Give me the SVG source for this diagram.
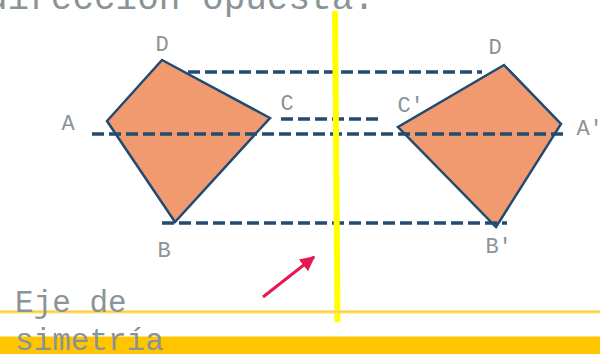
<svg xmlns="http://www.w3.org/2000/svg" width="600" height="354" viewBox="0 0 600 354">
<defs>
<style>
.t{font-family:"Courier New","Liberation Mono",monospace;fill:#8a9396}
.lbl{font-size:22px}
.kite{fill:#f19a6f;stroke:#1f4b73;stroke-width:2.5;stroke-linejoin:miter}
.dash{stroke:#234a70;stroke-width:3.5;stroke-dasharray:12 5;fill:none}
</style>
<marker id="ah" viewBox="0 0 10 10" refX="9" refY="5" markerWidth="5" markerHeight="5" orient="auto" markerUnits="strokeWidth">
<path d="M0,0 L10,5 L0,10 z" fill="#e8174f"/>
</marker>
</defs>
<rect width="600" height="354" fill="#ffffff"/>
<text class="t" x="-14" y="9" font-size="36">dirección opuesta.</text>
<g id="kite-left"><polygon class="kite" points="162,60 270,118 175,222 107,121"/></g>
<g id="kite-right"><polygon class="kite" points="504,65 561,124 496,227 398,127"/></g>
<g id="connectors">
<line class="dash" x1="188" y1="72" x2="482" y2="72"/>
<line class="dash" x1="281" y1="119" x2="383" y2="119"/>
<line class="dash" x1="92" y1="134" x2="567" y2="134"/>
<line class="dash" x1="162" y1="223" x2="507" y2="223"/>
</g>
<g id="axis"><line x1="335" y1="11" x2="337.5" y2="322" stroke="#ffff00" stroke-width="6"/></g>
<g id="arrow"><line x1="263" y1="297" x2="314" y2="257" stroke="#e8174f" stroke-width="3" marker-end="url(#ah)"/></g>
<g id="labels">
<text class="t lbl" x="155.4" y="51">D</text>
<text class="t lbl" x="61.4" y="130">A</text>
<text class="t lbl" x="280.4" y="110">C</text>
<text class="t lbl" x="157.4" y="257">B</text>
<text class="t lbl" x="488.4" y="54">D</text>
<text class="t lbl" x="397.4" y="112">C′</text>
<text class="t lbl" x="576.4" y="135">A′</text>
<text class="t lbl" x="485.4" y="253">B′</text>
</g>
<rect x="0" y="310" width="600" height="3.5" fill="#ffe080"/>
<rect x="0" y="311" width="600" height="1.5" fill="#ffd040"/>
<rect x="0" y="336.5" width="600" height="17.5" fill="#ffc600"/>
<g id="caption">
<text class="t" x="15" y="312" font-size="31">Eje de</text>
<text class="t" x="15" y="350" font-size="31">simetría</text>
</g>
</svg>
